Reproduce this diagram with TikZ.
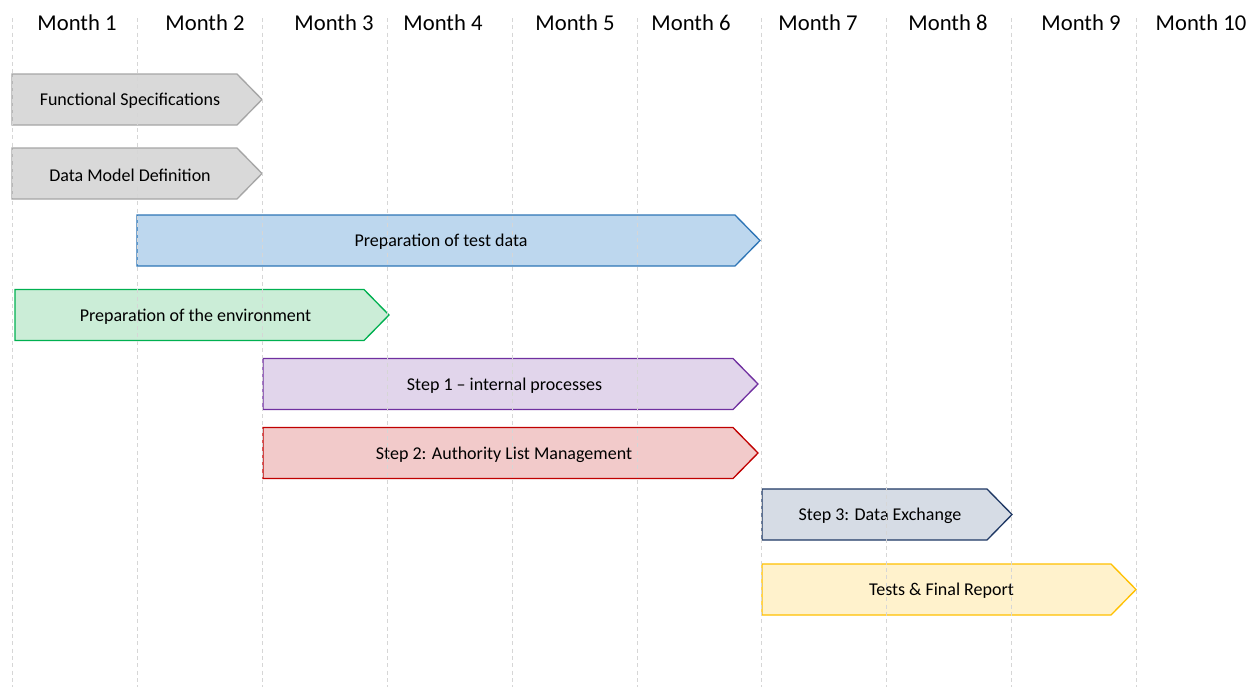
\documentclass[tikz,border=0pt]{standalone}
\usepackage{fontspec}
\setmainfont{Carlito}
\usepackage{tikz}
\definecolor{gridgray}{RGB}{214,214,214}
\definecolor{grayfill}{RGB}{217,217,217}
\definecolor{grayline}{RGB}{166,166,166}
\definecolor{bluefill}{RGB}{189,215,238}
\definecolor{blueline}{RGB}{46,117,182}
\definecolor{greenfill}{RGB}{203,237,215}
\definecolor{greenline}{RGB}{0,176,80}
\definecolor{purplefill}{RGB}{225,213,235}
\definecolor{purpleline}{RGB}{112,48,160}
\definecolor{redfill}{RGB}{242,202,202}
\definecolor{redline}{RGB}{192,0,0}
\definecolor{navyfill}{RGB}{214,220,229}
\definecolor{navyline}{RGB}{31,56,100}
\definecolor{yellowfill}{RGB}{255,242,204}
\definecolor{yellowline}{RGB}{255,192,0}
% #1 style, #2 name, #3 left x, #4 tip x, #5 middle y, #6 text x, #7 text
\newcommand{\ganttbar}[7]{%
  \draw[#1] (#3,#5-25.5) -- (#4-25,#5-25.5) -- (#4,#5) -- (#4-25,#5+25.5) -- (#3,#5+25.5) -- cycle;
  \node[bartext] (#2) at (#6,#5+1.5) {#7};
}

\begin{document}
\begin{tikzpicture}[line join=miter,x=0.75pt,y=-0.75pt,
    month/.style={font=\fontsize{17}{20}\selectfont},
    bartext/.style={font=\fontsize{13.5}{16}\selectfont,inner sep=0pt},
    gridline/.style={gridgray,line width=0.55pt,dash pattern=on 3pt off 2.5pt}]
  \useasboundingbox (0,0) rectangle (1259,687);
  % month headings
  \foreach \x [count=\i] in {77,205,334,443,575,691,818,948,1081,1201}
    \node[month] (m\i) at (\x,23) {Month \i};
  % tasks
  \ganttbar{fill=grayfill,draw=grayline,line width=1pt}{funspec}{12}{262}{99.5}{130}{Functional Specifications}
  \ganttbar{fill=grayfill,draw=grayline,line width=1pt}{datamodel}{12}{262}{173.5}{130}{Data Model Definition}
  \ganttbar{fill=bluefill,draw=blueline,line width=1pt}{testdata}{137}{760}{240.5}{441}{Preparation of test data}
  \ganttbar{fill=greenfill,draw=greenline,line width=1pt}{environment}{15}{389}{315}{195.5}{Preparation of the environment}
  \ganttbar{fill=purplefill,draw=purpleline,line width=1pt}{stepone}{263}{758}{384}{504.5}{Step 1 – internal processes}
  \ganttbar{fill=redfill,draw=redline,line width=1pt}{steptwo}{263}{758}{453}{504}{Step 2: Authority List Management}
  \ganttbar{fill=navyfill,draw=navyline,line width=1pt}{stepthree}{762}{1012}{514.5}{880}{Step 3: Data Exchange}
  \ganttbar{fill=yellowfill,draw=yellowline,line width=1pt}{tests}{762}{1136}{589.5}{941.5}{Tests \& Final Report}
  % month grid
  \foreach \x in {12,137,262,387,512,637,761,886,1011,1136}
    \draw[gridline] (\x,18) -- (\x,687);
\end{tikzpicture}
\end{document}
